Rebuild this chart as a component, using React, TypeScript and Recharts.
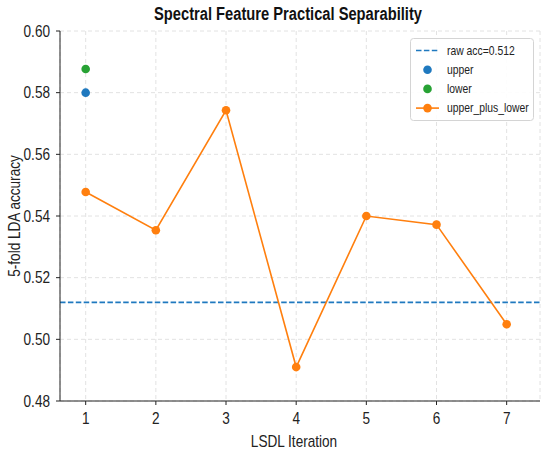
import React from "react";
import {
  ComposedChart,
  Line,
  XAxis,
  YAxis,
  CartesianGrid,
  ReferenceLine,
} from "recharts";

const iterations = [1, 2, 3, 4, 5, 6, 7];
const upperPlusLower = [0.5478, 0.5354, 0.5743, 0.491, 0.54, 0.5372, 0.5049];
const upperValues: (number | null)[] = [0.58, null, null, null, null, null, null];
const lowerValues: (number | null)[] = [0.5877, null, null, null, null, null, null];
const rawAcc = 0.512;
const yTicks = [0.48, 0.5, 0.52, 0.54, 0.56, 0.58, 0.6];
const xTicks = [1, 2, 3, 4, 5, 6, 7];
const titleText = "Spectral Feature Practical Separability";
const xLabelText = "LSDL Iteration";
const yLabelText = "5-fold LDA accuracy";

const data = iterations.map((it, i) => ({
  iteration: it,
  upper: upperValues[i],
  lower: lowerValues[i],
  combined: upperPlusLower[i],
}));

const FONT = '"Liberation Sans", Arial, sans-serif';
const SX = 0.85;
const BLUE = "#1f79bf";
const GREEN = "#27a234";
const ORANGE = "#ff7f0e";
const INK = "#222";
const DASH = "5.5 2.4";

const legendItems = [
  { label: `raw acc=${rawAcc}`, kind: "dash", color: BLUE },
  { label: "upper", kind: "dot", color: BLUE },
  { label: "lower", kind: "dot", color: GREEN },
  { label: "upper_plus_lower", kind: "linedot", color: ORANGE },
];

const LegendBox = () => (
  <svg
    width={124}
    height={83}
    style={{ position: "absolute", left: 409.5, top: 37.5, overflow: "visible" }}
  >
    <rect x={0.5} y={0.5} width={123} height={82} rx={3} fill="rgba(255,255,255,0.9)" stroke="#d4d4d4" />
    {legendItems.map((it, i) => {
      const cy = 12.5 + i * 19.2;
      return (
        <g key={it.label}>
          {it.kind === "dash" && (
            <line x1={6} y1={cy} x2={29} y2={cy} stroke={it.color} strokeWidth={1.6} strokeDasharray={DASH} />
          )}
          {it.kind === "linedot" && (
            <line x1={6} y1={cy} x2={29} y2={cy} stroke={it.color} strokeWidth={1.6} />
          )}
          {it.kind !== "dash" && <circle cx={17.5} cy={cy} r={4.3} fill={it.color} />}
          <g transform={`translate(37, ${cy})`}>
            <text transform={`scale(${SX},1)`} dy="0.36em" fontFamily={FONT} fontSize={12.2} fill={INK}>
              {it.label}
            </text>
          </g>
        </g>
      );
    })}
  </svg>
);

const XTick = (props: any) => {
  const { x, y, payload } = props;
  return (
    <g transform={`translate(${x},${y})`}>
      <text transform={`scale(${SX},1)`} textAnchor="middle" dy="0.72em" fontFamily={FONT} fontSize={16} fill={INK}>
        {payload.value}
      </text>
    </g>
  );
};

const YTick = (props: any) => {
  const { x, y, payload } = props;
  return (
    <g transform={`translate(${x},${y})`}>
      <text transform={`scale(${SX},1)`} textAnchor="end" dy="0.36em" fontFamily={FONT} fontSize={16} fill={INK}>
        {Number(payload.value).toFixed(2)}
      </text>
    </g>
  );
};

const XLabel = (props: any) => {
  const vb = props.viewBox || {};
  const cx = vb.x + vb.width / 2 - 6;
  const cy = vb.y + 40.5;
  return (
    <g transform={`translate(${cx},${cy})`}>
      <text transform={`scale(${SX},1)`} textAnchor="middle" dy="0.36em" fontFamily={FONT} fontSize={16} fill={INK}>
        {xLabelText}
      </text>
    </g>
  );
};

const YLabel = (props: any) => {
  const vb = props.viewBox || {};
  const cx = vb.x + 14;
  const cy = vb.y + vb.height / 2;
  return (
    <g transform={`translate(${cx},${cy}) rotate(-90)`}>
      <text transform={`scale(${SX},1)`} textAnchor="middle" dy="0.36em" fontFamily={FONT} fontSize={16} fill={INK}>
        {yLabelText}
      </text>
    </g>
  );
};

export default function App() {
  return (
    <div style={{ position: "absolute", left: 0, top: 0, width: 550, height: 454, background: "#fff" }}>
      <ComposedChart
        width={550}
        height={454}
        data={data}
        margin={{ top: 31, right: 10, left: 0, bottom: 0 }}
      >
        <g transform="translate(288,14)">
          <text transform="scale(0.84,1)" textAnchor="middle" dy="0.36em" fontFamily={FONT} fontWeight="bold" fontSize={17.5} fill="#111">
            {titleText}
          </text>
        </g>
        <CartesianGrid stroke="#e2e2e2" strokeDasharray="4 3" />
        <XAxis
          dataKey="iteration"
          type="number"
          domain={[0.634, 7.475]}
          ticks={xTicks}
          allowDataOverflow
          height={53}
          tickSize={4}
          tickMargin={7}
          stroke={INK}
          tick={<XTick />}
          label={<XLabel />}
        />
        <XAxis xAxisId="top" orientation="top" dataKey="iteration" type="number" domain={[0.634, 7.475]} height={0} tick={false} tickLine={false} stroke={INK} />
        <YAxis
          type="number"
          domain={[0.48, 0.6]}
          ticks={yTicks}
          allowDataOverflow
          width={60}
          tickSize={4}
          tickMargin={6}
          stroke={INK}
          tick={<YTick />}
          label={<YLabel />}
        />
        <YAxis yAxisId="right" orientation="right" domain={[0.48, 0.6]} width={0} tick={false} tickLine={false} stroke={INK} />
        <ReferenceLine y={rawAcc} stroke={BLUE} strokeWidth={1.6} strokeDasharray={DASH} />
        <Line
          dataKey="combined"
          stroke={ORANGE}
          strokeWidth={1.6}
          dot={{ r: 4.3, fill: ORANGE, stroke: ORANGE, strokeWidth: 0 }}
          isAnimationActive={false}
        />
        <Line
          dataKey="upper"
          stroke="none"
          dot={{ r: 4.3, fill: BLUE, stroke: BLUE, strokeWidth: 0 }}
          isAnimationActive={false}
        />
        <Line
          dataKey="lower"
          stroke="none"
          dot={{ r: 4.3, fill: GREEN, stroke: GREEN, strokeWidth: 0 }}
          isAnimationActive={false}
        />
      </ComposedChart>
      <LegendBox />
    </div>
  );
}
